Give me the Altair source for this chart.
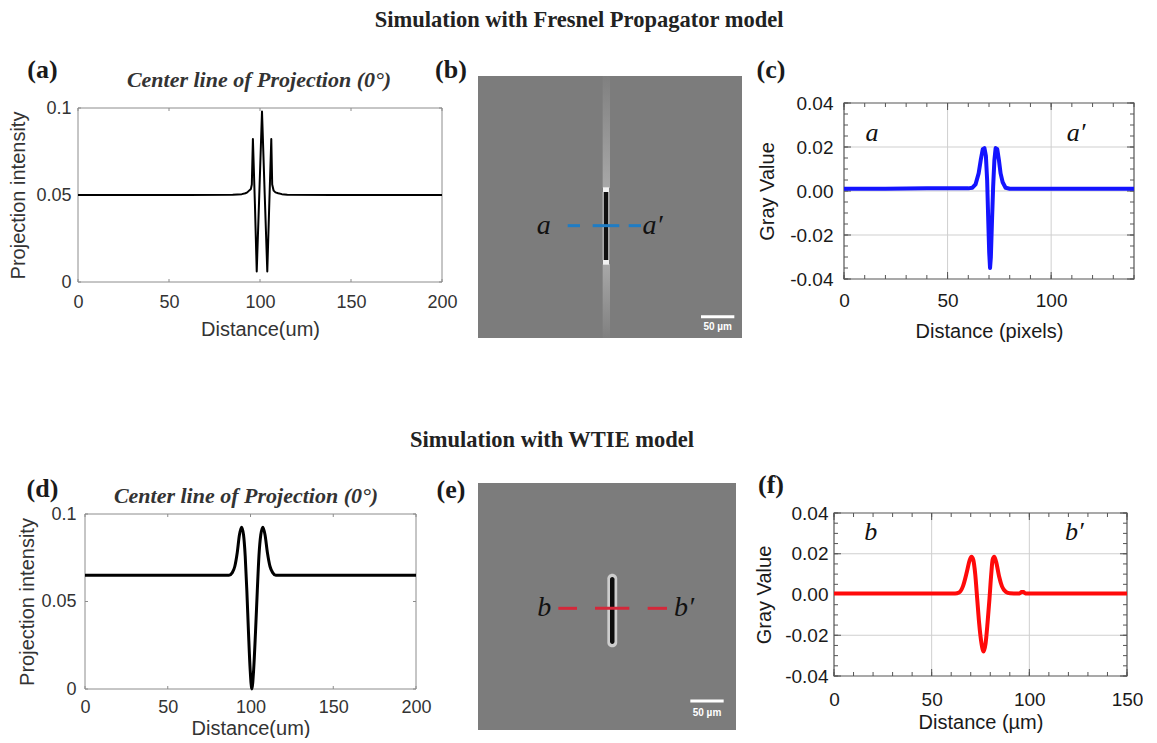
import altair as alt
import pandas as pd

# ---------------- data ----------------
# (a) Fresnel propagator - centre line of projection (0 deg)
a_dist = [0, 60, 85, 90, 92, 93, 94, 95, 95.5, 96.1, 97.2, 98.2, 99.6, 101.1, 102.6, 104.0,
          105.1, 106.2, 106.7, 107.5, 108.5, 110, 112, 115, 140, 200]
a_int = [0.05, 0.05, 0.0502, 0.0505, 0.051, 0.0515, 0.0525, 0.0535, 0.056, 0.0822, 0.045, 0.0061,
         0.05, 0.098, 0.05, 0.0061, 0.045, 0.0822, 0.056, 0.0525, 0.0515, 0.051, 0.0505, 0.0502,
         0.05, 0.05]
# (c) line profile a - a'
c_dist = [0, 20, 40, 60, 62, 63.5, 65, 66, 67, 67.8, 68.5, 69.1, 69.6, 70.1, 70.5, 70.9, 71.4,
          72, 72.6, 73.2, 74, 74.8, 75.6, 76.6, 78, 80, 100, 140]
c_gray = [0.001, 0.001, 0.0012, 0.0012, 0.0015, 0.003, 0.008, 0.014, 0.019, 0.0195, 0.016, 0.005,
          -0.012, -0.028, -0.035, -0.03, -0.015, 0.002, 0.014, 0.0195, 0.019, 0.014, 0.008, 0.004,
          0.0015, 0.001, 0.001, 0.001]
# (d) WTIE - centre line of projection (0 deg)
d_dist = [0, 87, 89, 90.5, 92, 93.3, 94.6, 95.8, 96.8, 97.8, 98.8, 99.8, 100.8, 101.9, 103.0,
          104.1, 105.1, 106.2, 107.5, 108.8, 110.2, 111.8, 113.4, 115.3, 200]
d_int = [0.065, 0.065, 0.0665, 0.070, 0.078, 0.088, 0.0925, 0.088, 0.076, 0.056, 0.032, 0.011,
         0.0, 0.011, 0.032, 0.056, 0.076, 0.088, 0.0925, 0.088, 0.078, 0.070, 0.0665, 0.065, 0.065]
# (f) line profile b - b'
f_dist = [0, 62, 64, 66, 68, 69.5, 70.4, 71.3, 72.3, 73.3, 74.3, 75.5, 76.6, 77.6, 78.6, 79.6,
          80.5, 81.2, 82, 83, 84.5, 86, 88, 90, 95, 96, 97, 98, 150]
f_gray = [0.0005, 0.0005, 0.001, 0.004, 0.011, 0.017, 0.0185, 0.017, 0.01, -0.002, -0.014, -0.024,
          -0.028, -0.024, -0.014, -0.002, 0.01, 0.017, 0.0185, 0.016, 0.009, 0.004, 0.0013, 0.0006,
          0.0005, 0.0012, 0.0012, 0.0005, 0.0005]

# tick values
proj_x_ticks = [0, 50, 100, 150, 200]
proj_y_ticks = [0, 0.05, 0.1]
c_x_ticks = [0, 50, 100]
f_x_ticks = [0, 50, 100, 150]
gray_y_ticks = [-0.04, -0.02, 0, 0.02, 0.04]
c_minor_x = [0, 10, 20, 30, 40, 50, 60, 70, 80, 90, 100, 110, 120, 130, 140]
f_minor_x = [0, 10, 20, 30, 40, 50, 60, 70, 80, 90, 100, 110, 120, 130, 140, 150]
gray_minor_y = [-0.04, -0.035, -0.03, -0.025, -0.02, -0.015, -0.01, -0.005, 0, 0.005, 0.01,
                0.015, 0.02, 0.025, 0.03, 0.035, 0.04]
c_grid_x = [50, 100]
f_grid_x = [50, 100]
gray_grid_y = [-0.02, 0, 0.02]

# simulated projection images, in micrometres (origin at image top-left)
b_size = [396, 393]
b_streak_x = [187, 198]
b_streak_up_y = [0, 168]
b_streak_dn_y = [282, 393]
b_cap_x = [187.5, 196.5]
b_cap_y0 = [167, 276]
b_cap_y1 = [174, 283]
b_edge_x = [186.5, 197.5]
b_bar_x = [189, 195]
b_bar_y = [174, 276]
b_dash_x0 = [134.5, 172, 226]
b_dash_x1 = [153, 212, 244.5]
b_dash_y = 224.5
b_lab = ["a", "a\u2032"]
b_lab_x = [98.5, 262]
b_scale = [334.5, 384.5, 361]

e_size = [387, 370.5]
e_halo_x = [194.0, 208.8]
e_halo_y = [136.0, 246.5]
e_bar_x = [198, 204.75]
e_bar_y = [141, 241.5]
e_dash_x0 = [120.5, 175.5, 254.5]
e_dash_x1 = [148.5, 227, 283.5]
e_dash_y = 188
e_lab = ["b", "b\u2032"]
e_lab_x = [99.5, 309]
e_scale = [318.5, 368.5, 327]

# profile annotations
c_lab_x = [13.5, 112]
c_lab_y = 0.0263
f_lab_x = [18.8, 123]
f_lab_y = 0.0309

SANS = "Liberation Sans"
SERIF = "Liberation Serif"
ONE = pd.DataFrame({"k": [0]})


def spacer(x1, x2, y1, y2):
    return alt.Chart(ONE).mark_rect(fill="white", opacity=0).encode(
        x=alt.value(x1), x2=alt.value(x2), y=alt.value(y1), y2=alt.value(y2))


def note(text, x, y, size, font=SERIF, weight="bold", style="normal", color="#1a1a1a"):
    return alt.Chart(ONE).mark_text(text=text, font=font, fontSize=size, fontWeight=weight,
                                    fontStyle=style, color=color, align="center",
                                    baseline="middle").encode(x=alt.value(x), y=alt.value(y))


def axis(values, title, color, lsize, tsize, lpad, tpad, fmt=None, expr=None):
    kw = dict(values=values, title=title, domain=False, ticks=False, tickSize=0, grid=False,
              labelFont=SANS, labelFontSize=lsize, labelColor=color, labelPadding=lpad,
              labelFlush=False, labelOverlap=False, titleFont=SANS, titleFontSize=tsize,
              titleFontWeight="normal", titleColor=color, titlePadding=tpad, zindex=1)
    if fmt:
        kw["format"] = fmt
    if expr:
        kw["labelExpr"] = expr
    return alt.Axis(**kw)


class P:
    """scales + axes of one panel, reused by every layer of that panel"""

    def __init__(self, xs, ys, xa=None, ya=None):
        self.xs, self.ys, self.xa, self.ya = xs, ys, xa, ya

    def X(self, f):
        if self.xa is None:
            return alt.X(f, scale=self.xs, axis=None)
        return alt.X(f, scale=self.xs, axis=self.xa)

    def Y(self, f):
        if self.ya is None:
            return alt.Y(f, scale=self.ys, axis=None)
        return alt.Y(f, scale=self.ys, axis=self.ya)


def frame(p, xdom, ydom, color, sw):
    df = pd.DataFrame({"x0": [xdom[0]], "x1": [xdom[1]], "y0": [ydom[0]], "y1": [ydom[1]]})
    return alt.Chart(df).mark_rect(fillOpacity=0, stroke=color, strokeWidth=sw).encode(
        x=p.X("x0:Q"), x2="x1", y=p.Y("y0:Q"), y2="y1")


def ticks(p, xv, yv, left, right, top, bottom, L, color):
    dx = pd.DataFrame({"v": xv})
    dy = pd.DataFrame({"v": yv})
    r = dict(color=color, strokeWidth=1)
    return [
        alt.Chart(dx).mark_rule(**r).encode(x=p.X("v:Q"), y=alt.value(bottom), y2=alt.value(bottom - L)),
        alt.Chart(dx).mark_rule(**r).encode(x=p.X("v:Q"), y=alt.value(top), y2=alt.value(top + L)),
        alt.Chart(dy).mark_rule(**r).encode(y=p.Y("v:Q"), x=alt.value(left), x2=alt.value(left + L)),
        alt.Chart(dy).mark_rule(**r).encode(y=p.Y("v:Q"), x=alt.value(right), x2=alt.value(right - L)),
    ]


def grid(p, gx, gy, xdom, ydom):
    vx = pd.DataFrame({"x": gx, "y0": [ydom[0]] * len(gx), "y1": [ydom[1]] * len(gx)})
    hy = pd.DataFrame({"y": gy, "x0": [xdom[0]] * len(gy), "x1": [xdom[1]] * len(gy)})
    return [
        alt.Chart(vx).mark_rule(color="#cfcfcf", strokeWidth=1).encode(
            x=p.X("x:Q"), y=p.Y("y0:Q"), y2="y1"),
        alt.Chart(hy).mark_rule(color="#cfcfcf", strokeWidth=1).encode(
            y=p.Y("y:Q"), x=p.X("x0:Q"), x2="x1"),
    ]


def rects(p, x0, x1, y0, y1, **mk):
    df = pd.DataFrame({"x0": x0, "x1": x1, "y0": y0, "y1": y1})
    return alt.Chart(df).mark_rect(**mk).encode(x=p.X("x0:Q"), x2="x1", y=p.Y("y0:Q"), y2="y1")


def grad(c_top, c_bottom):
    return alt.LinearGradient(gradient="linear", x1=0, x2=0, y1=0, y2=1,
                              stops=[alt.GradientStop(color=c_top, offset=0),
                                     alt.GradientStop(color=c_bottom, offset=1)])


def italic_labels(p, xs, y, texts, size):
    df = pd.DataFrame({"x": xs, "y": [y] * len(xs), "t": texts})
    return alt.Chart(df).mark_text(font=SERIF, fontSize=size, fontStyle="italic", color="#111",
                                   baseline="middle").encode(x=p.X("x:Q"), y=p.Y("y:Q"), text="t:N")


def dashes(p, x0, x1, y, color):
    df = pd.DataFrame({"x0": x0, "x1": x1, "y": [y] * len(x0)})
    return alt.Chart(df).mark_rule(color=color, strokeWidth=3).encode(
        x=p.X("x0:Q"), x2="x1", y=p.Y("y:Q"))


def scalebar(p, sb, dy):
    df = pd.DataFrame({"x0": [sb[0]], "x1": [sb[1]], "y": [sb[2]], "xm": [(sb[0] + sb[1]) / 2],
                       "yt": [sb[2] + dy], "t": ["50 \u00b5m"]})
    return [
        alt.Chart(df).mark_rule(color="white", strokeWidth=3).encode(
            x=p.X("x0:Q"), x2="x1", y=p.Y("y:Q")),
        alt.Chart(df).mark_text(font=SANS, fontSize=10, fontWeight="bold", color="white",
                                baseline="middle").encode(x=p.X("xm:Q"), y=p.Y("yt:Q"), text="t:N"),
    ]


MINUS = "(datum.value < 0 ? '-' : '') + format(abs(datum.value), '.2f')"

# ---------------- (a) ----------------
Wa, Ha, Ta = 364, 206, 32
pa = P(alt.Scale(domain=[0, 200], nice=False, zero=False),
       alt.Scale(domain=[0, 0.1], range=[Ha, Ta], nice=False, zero=False),
       axis(proj_x_ticks, "Distance(um)", "#333", 18, 20, 11, 8),
       axis(proj_y_ticks, "Projection intensity", "#333", 18, 20, 7, 7, fmt="~g"))
panel_a = alt.layer(
    spacer(-69, 400, -38, 319),
    frame(pa, [0, 200], [0, 0.1], "#8c8c8c", 1),
    *ticks(pa, proj_x_ticks, proj_y_ticks, 0, Wa, Ta, Ha, 3, "#8c8c8c"),
    alt.Chart(pd.DataFrame({"d": a_dist, "v": a_int})).mark_line(
        color="black", strokeWidth=2, strokeJoin="round").encode(x=pa.X("d:Q"), y=pa.Y("v:Q")),
    note("(a)", -35.5, -6, 26),
    note("(b)", 373, -6, 26),
    note("Center line of Projection (0\u00b0)", 181, 4, 22, style="italic", color="#333"),
).properties(width=Wa, height=Ha)

# ---------------- (b) ----------------
Wb, Hb = 264, 262
pb = P(alt.Scale(domain=[0, b_size[0]], nice=False, zero=False),
       alt.Scale(domain=[0, b_size[1]], range=[0, Hb], nice=False, zero=False))
panel_b = alt.layer(
    spacer(0, Wb, -38, 319),
    rects(pb, [0], [b_size[0]], [0], [b_size[1]], fill="#7c7c7c"),
    rects(pb, [b_streak_x[0]], [b_streak_x[1]], [b_streak_up_y[0]], [b_streak_up_y[1]],
          fill=grad("#808080", "#a8a8a8")),
    rects(pb, [b_streak_x[0]], [b_streak_x[1]], [b_streak_dn_y[0]], [b_streak_dn_y[1]],
          fill=grad("#a8a8a8", "#808080")),
    rects(pb, [b_edge_x[0]], [b_edge_x[1]], [b_bar_y[0]], [b_bar_y[1]], fill="#a8a8a8"),
    rects(pb, [b_bar_x[0]], [b_bar_x[1]], [b_bar_y[0]], [b_bar_y[1]], fill="#101010"),
    rects(pb, [b_cap_x[0]] * 2, [b_cap_x[1]] * 2, b_cap_y0, b_cap_y1, fill="#f2f2f2"),
    dashes(pb, b_dash_x0, b_dash_x1, b_dash_y, "#1f7cc4"),
    italic_labels(pb, b_lab_x, b_dash_y, b_lab, 28),
    *scalebar(pb, b_scale, 15.5),
).properties(width=Wb, height=Hb)

# ---------------- (c) ----------------
Wc, Hc, Tc = 290, 203, 27
pc = P(alt.Scale(domain=[0, 140], nice=False, zero=False),
       alt.Scale(domain=[-0.04, 0.04], range=[Hc, Tc], nice=False, zero=False),
       axis(c_x_ticks, "Distance (pixels)", "#1a1a1a", 19, 20, 12, 11),
       axis(gray_y_ticks, "Gray Value", "#1a1a1a", 19, 20, 11, 12, expr=MINUS))
panel_c = alt.layer(
    spacer(-102, 295, -38, 319),
    *grid(pc, c_grid_x, gray_grid_y, [0, 140], [-0.04, 0.04]),
    *ticks(pc, c_minor_x, gray_minor_y, 0, Wc, Tc, Hc, 4, "#555"),
    *ticks(pc, c_x_ticks, gray_y_ticks, 0, Wc, Tc, Hc, 7, "#555"),
    frame(pc, [0, 140], [-0.04, 0.04], "#555", 1.2),
    alt.Chart(pd.DataFrame({"d": c_dist, "v": c_gray})).mark_line(
        color="#1414ff", strokeWidth=4, strokeJoin="round").encode(x=pc.X("d:Q"), y=pc.Y("v:Q")),
    italic_labels(pc, c_lab_x, c_lab_y, ["a", "a\u2032"], 26),
    note("(c)", -73, -6, 26),
).properties(width=Wc, height=Hc)

# ---------------- (d) ----------------
# shares its left edge with (a); the plot itself starts 7 px further right
Wd, Hd, Td, Ld = 338, 206, 31, 7
pd_ = P(alt.Scale(domain=[0, 200], range=[Ld, Wd], nice=False, zero=False),
        alt.Scale(domain=[0, 0.1], range=[Hd, Td], nice=False, zero=False),
        axis(proj_x_ticks, "Distance(um)", "#333", 18, 20, 9, 2),
        axis(proj_y_ticks, "Projection intensity", "#333", 18, 20, 2, 3, fmt="~g"))
panel_d = alt.layer(
    spacer(-69, 400, -23, 248),
    frame(pd_, [0, 200], [0, 0.1], "#8c8c8c", 1),
    *ticks(pd_, proj_x_ticks, proj_y_ticks, Ld, Wd, Td, Hd, 3, "#8c8c8c"),
    alt.Chart(pd.DataFrame({"d": d_dist, "v": d_int})).mark_line(
        color="black", strokeWidth=3, interpolate="monotone").encode(x=pd_.X("d:Q"), y=pd_.Y("v:Q")),
    note("(d)", -35.5, 6, 26),
    note("(e)", 373, 7, 26),
    note("Center line of Projection (0\u00b0)", 168, 13, 22, style="italic", color="#333"),
).properties(width=Wd, height=Hd)

# ---------------- (e) ----------------
We, He = 258, 247
pe = P(alt.Scale(domain=[0, e_size[0]], nice=False, zero=False),
       alt.Scale(domain=[0, e_size[1]], range=[0, He], nice=False, zero=False))
panel_e = alt.layer(
    spacer(0, We, -23, 248),
    rects(pe, [0], [e_size[0]], [0], [e_size[1]], fill="#7c7c7c"),
    rects(pe, [e_halo_x[0]], [e_halo_x[1]], [e_halo_y[0]], [e_halo_y[1]], fill="#cdcdcd", cornerRadius=5),
    rects(pe, [e_bar_x[0]], [e_bar_x[1]], [e_bar_y[0]], [e_bar_y[1]], fill="#0d0d0d", cornerRadius=2.5),
    dashes(pe, e_dash_x0, e_dash_x1, e_dash_y, "#d4283a"),
    italic_labels(pe, e_lab_x, e_dash_y, e_lab, 28),
    *scalebar(pe, e_scale, 17.5),
).properties(width=We, height=He)

# ---------------- (f) ----------------
Wf, Hf, Tf = 293, 193, 30
pf = P(alt.Scale(domain=[0, 150], nice=False, zero=False),
       alt.Scale(domain=[-0.04, 0.04], range=[Hf, Tf], nice=False, zero=False),
       axis(f_x_ticks, "Distance (\u00b5m)", "#1a1a1a", 19, 20, 14, 3),
       axis(gray_y_ticks, "Gray Value", "#1a1a1a", 19, 20, 6, 10, expr=MINUS))
panel_f = alt.layer(
    spacer(-98, 300, -23, 248),
    *grid(pf, f_grid_x, gray_grid_y, [0, 150], [-0.04, 0.04]),
    *ticks(pf, f_minor_x, gray_minor_y, 0, Wf, Tf, Hf, 4, "#555"),
    *ticks(pf, f_x_ticks, gray_y_ticks, 0, Wf, Tf, Hf, 7, "#555"),
    frame(pf, [0, 150], [-0.04, 0.04], "#555", 1.2),
    alt.Chart(pd.DataFrame({"d": f_dist, "v": f_gray})).mark_line(
        color="#ff0a0a", strokeWidth=4, interpolate="monotone").encode(x=pf.X("d:Q"), y=pf.Y("v:Q")),
    italic_labels(pf, f_lab_x, f_lab_y, ["b", "b\u2032"], 26),
    note("(f)", -63, 2, 26),
).properties(width=Wf, height=Hf)

# ---------------- row titles (their origin lines up with the left panels) ----------------
title1 = alt.layer(
    spacer(-69, 1064, 0, 30),
    note("Simulation with Fresnel Propagator model", 501, 12, 22.5, color="#222"),
).properties(width=1000, height=1)
title2 = alt.layer(
    spacer(-69, 1064, 0, 65),
    note("Simulation with WTIE model", 474, 45, 22.5, color="#222"),
).properties(width=1000, height=1)

row1 = alt.hconcat(panel_a, panel_b, panel_c, spacing=0)
row2 = alt.hconcat(panel_d, panel_e, panel_f, spacing=0)

chart = alt.vconcat(title1, row1, title2, row2, spacing=0).properties(
    padding=0, background="white"
).configure_view(stroke="transparent", strokeWidth=0)

chart.save("out.html", embed_options={"renderer": "svg", "actions": False})
